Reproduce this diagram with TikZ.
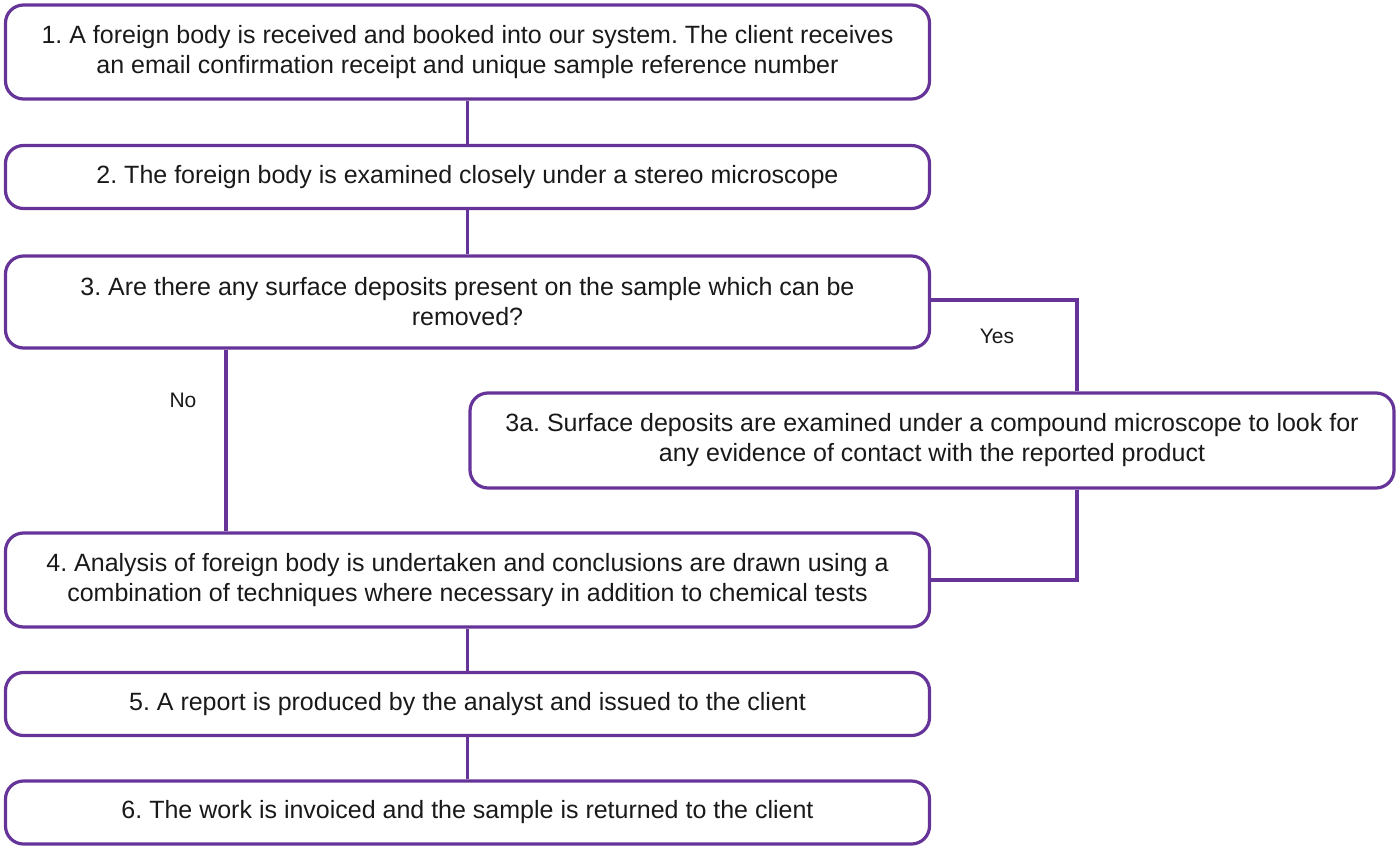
\documentclass[tikz,border=0pt]{standalone}
\usepackage{fontspec}
\setmainfont{Liberation Sans}
\usepackage{tikz}
\usetikzlibrary{positioning,calc}
\definecolor{fbpurple}{RGB}{102,51,153}
\frenchspacing

\begin{document}
\begin{tikzpicture}[
    x=1pt, y=-1pt,
    stage/.style={rectangle, draw=fbpurple, line width=3.2pt, rounded corners=18pt, minimum width=924pt, align=center, inner sep=0pt, font=\fontsize{25}{30}\selectfont, text=black!90},
    link/.style={draw=fbpurple, line width=3.2pt},
    answer/.style={font=\fontsize{21}{25}\selectfont, text=black!90}
]
    \useasboundingbox (0,0) rectangle (1400,851);

    \node[stage, minimum height=94pt] (s1) at (467.5,52) {1. A foreign body is received and booked into our system. The client receives\\an email confirmation receipt and unique sample reference number};
    \node[stage, minimum height=63pt] (s2) at (467.5,177) {2. The foreign body is examined closely under a stereo microscope};
    \node[stage, minimum height=92pt] (s3) at (467.5,302) {3. Are there any surface deposits present on the sample which can be\\removed?};
    \node[stage, minimum height=95pt] (s3a) at (932,440.5) {3a. Surface deposits are examined under a compound microscope to look for\\any evidence of contact with the reported product};
    \node[stage, minimum height=94pt] (s4) at (467.5,580) {4. Analysis of foreign body is undertaken and conclusions are drawn using a\\combination of techniques where necessary in addition to chemical tests};
    \node[stage, minimum height=63pt] (s5) at (467.5,704) {5. A report is produced by the analyst and issued to the client};
    \node[stage, minimum height=63pt] (s6) at (467.5,812.5) {6. The work is invoiced and the sample is returned to the client};

    % Branch points
    \coordinate (yes) at (1077,300);
    \coordinate (no) at (226,400);

    % Links
    \draw[link] (s1) -- (s2);
    \draw[link] (s2) -- (s3);
    \draw[link] (s3.south -| no) -- (s4.north -| no);
    \draw[link] (s3.east |- yes) -- (yes) -- (yes |- s3a.north);
    \draw[link] (s3a.south -| yes) -- (yes |- s4.east) -- (s4.east);
    \draw[link] (s4) -- (s5);
    \draw[link] (s5) -- (s6);

    % Labels
    \node[answer] (lyes) at (997,336) {Yes};
    \node[answer] (lno) at (183,400) {No};

\end{tikzpicture}
\end{document}
